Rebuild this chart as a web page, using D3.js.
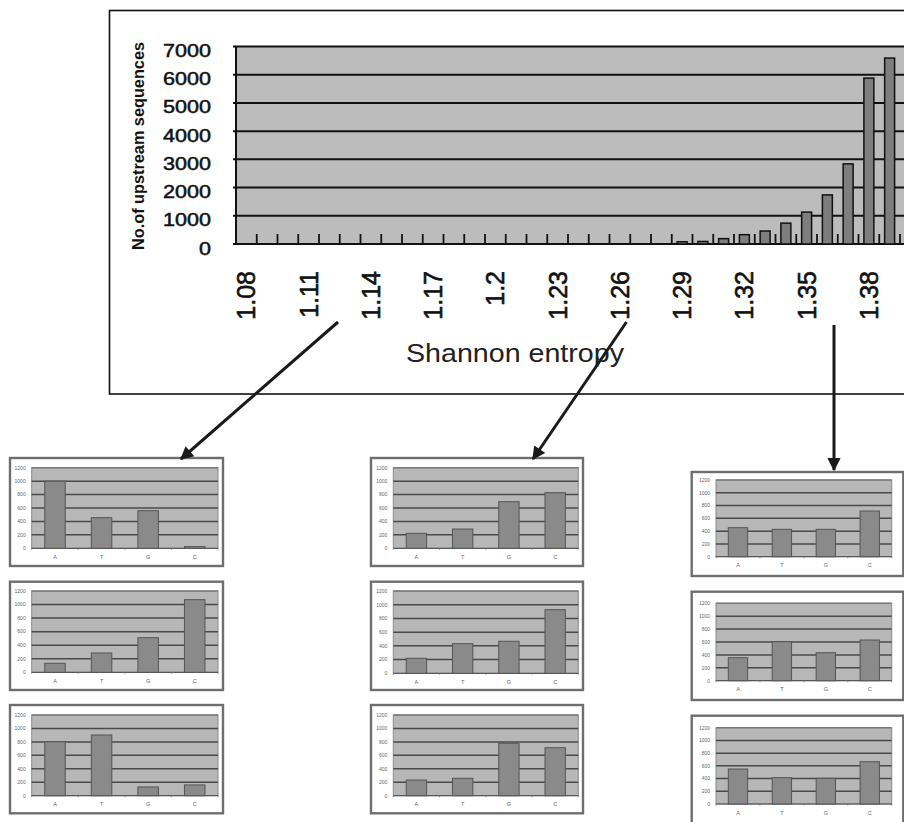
<!DOCTYPE html>
<html><head><meta charset="utf-8">
<script src="https://cdn.jsdelivr.net/npm/d3@7/dist/d3.min.js"></script>
<style>
body{margin:0;background:#fff;}
svg{display:block;font-family:"Liberation Sans",Arial,Helvetica,sans-serif;}
</style>
</head><body>
<svg id="chart" width="904" height="822"></svg>
<script>
// ---------------- DATA ----------------
const entropyCategories = ["1.08","1.09","1.1","1.11","1.12","1.13","1.14","1.15","1.16","1.17",
  "1.18","1.19","1.2","1.21","1.22","1.23","1.24","1.25","1.26","1.27","1.28","1.29","1.3",
  "1.31","1.32","1.33","1.34","1.35","1.36","1.37","1.38","1.39"];
const upstreamCounts = [0,0,0,0,0,0,0,0,0,0,0,0,0,0,0,0,0,0,0,0,0,
  80,90,190,330,460,740,1130,1740,2840,5880,6590];
const mainYTicks = [0,1000,2000,3000,4000,5000,6000,7000];
const mainXTickLabels = ["1.08","1.11","1.14","1.17","1.2","1.23","1.26","1.29","1.32","1.35","1.38"];
const mainYTitle = "No.of upstream sequences";
const mainXTitle = "Shannon entropy";

const bases = ["A","T","G","C"];
const panelYTicks = [0,200,400,600,800,1000,1200];
const lowEntropyTop    = [1000,456,560,25];
const lowEntropyMid    = [133,285,511,1072];
const lowEntropyBottom = [803,903,130,160];
const midEntropyTop    = [223,287,694,828];
const midEntropyMid    = [219,432,467,928];
const midEntropyBottom = [233,259,779,714];
const highEntropyTop    = [454,428,428,715];
const highEntropyMid    = [357,605,434,631];
const highEntropyBottom = [550,414,404,665];

// ---------------- LAYOUT ----------------
const svg = d3.select("#chart");
const C = {plotBg:"#bcbcbc", grid:"#111", bar:"#7e7e7e", ink:"#111"};

// main frame
svg.append("rect").attr("x",109.5).attr("y",10.5).attr("width",820).attr("height",383.5)
  .attr("fill","#fff").attr("stroke","#111").attr("stroke-width",1.6);

const M = {left:236, top:46.5, bottom:244, right:910};
const step = 20.75;
const xMain = d3.scaleBand().domain(entropyCategories)
  .range([M.left, M.left + entropyCategories.length*step])
  .paddingInner(0.52).paddingOuter(0.26);
const yMain = d3.scaleLinear().domain([0,7000]).range([M.bottom, M.top]);

svg.append("rect").attr("x",M.left).attr("y",M.top).attr("width",M.right-M.left)
  .attr("height",M.bottom-M.top).attr("fill",C.plotBg);

// gridlines
svg.append("g").selectAll("line").data(mainYTicks).join("line")
  .attr("x1",M.left-3).attr("x2",M.right).attr("y1",d=>yMain(d)).attr("y2",d=>yMain(d))
  .attr("stroke",C.grid).attr("stroke-width",2);
// left axis line
svg.append("line").attr("x1",M.left).attr("x2",M.left).attr("y1",M.top).attr("y2",M.bottom)
  .attr("stroke",C.grid).attr("stroke-width",2);

// category boundary ticks (inside, upward)
const bounds = d3.range(entropyCategories.length+1).map(i => xMain.range()[0] + i*xMain.step());
svg.append("g").selectAll("line").data(bounds).join("line")
  .attr("x1",d=>d).attr("x2",d=>d).attr("y1",M.bottom).attr("y2",M.bottom-10)
  .attr("stroke",C.grid).attr("stroke-width",1.8);

// bars
svg.append("g").selectAll("rect").data(entropyCategories.map((c,i)=>({c,v:upstreamCounts[i]})).filter(d=>d.v>0))
  .join("rect")
  .attr("x",d=>xMain(d.c)).attr("width",xMain.bandwidth())
  .attr("y",d=>yMain(d.v)).attr("height",d=>M.bottom-yMain(d.v))
  .attr("fill",C.bar).attr("stroke","#111").attr("stroke-width",1.5);

// y tick labels
svg.append("g").selectAll("text").data(mainYTicks).join("text")
  .attr("x",211).attr("y",d=>yMain(d)+10.5).attr("text-anchor","end")
  .attr("font-size",18.5).attr("fill",C.ink).attr("stroke",C.ink).attr("stroke-width",0.5)
  .attr("textLength",d=>String(d).length*12).attr("lengthAdjust","spacingAndGlyphs")
  .text(d=>d);

// y title
svg.append("text").attr("transform","translate(144,146) rotate(-90)")
  .attr("text-anchor","middle").attr("font-size",16).attr("font-weight","bold").attr("fill",C.ink)
  .attr("textLength",208).attr("lengthAdjust","spacingAndGlyphs")
  .text(mainYTitle);

// x tick labels (rotated)
svg.append("g").selectAll("text").data(mainXTickLabels).join("text")
  .attr("transform",d=>`translate(${xMain(d)+xMain.bandwidth()/2+9},271) rotate(-90)`)
  .attr("text-anchor","end").attr("font-size",25).attr("fill",C.ink)
  .attr("stroke",C.ink).attr("stroke-width",0.6)
  .text(d=>d);

// x title
svg.append("text").attr("x",515).attr("y",362).attr("text-anchor","middle")
  .attr("font-size",25).attr("fill","#222")
  .attr("textLength",218).attr("lengthAdjust","spacingAndGlyphs")
  .text(mainXTitle);

// ---------------- SMALL PANELS ----------------
const panels = [
  {v:lowEntropyTop,    f:[10,458,213,108],     p:[31.7,467.7,186.3,80.6]},
  {v:lowEntropyMid,    f:[10,581.7,213,108.3], p:[31.7,591,186.3,81.3]},
  {v:lowEntropyBottom, f:[10,705,213,108.3],   p:[31.7,715,186.3,80.7]},
  {v:midEntropyTop,    f:[371,458,212,108],    p:[393.3,467.7,185,80.6]},
  {v:midEntropyMid,    f:[371,581.7,212,108.3],p:[393.3,591,185,82.3]},
  {v:midEntropyBottom, f:[371,705,212,108.3],  p:[393.3,715,185,80.7]},
  {v:highEntropyTop,   f:[691.7,472,211.6,104],p:[716,480,175.7,76.7]},
  {v:highEntropyMid,   f:[691.7,591.7,211.6,108.3],p:[716,603.3,175.7,77.4]},
  {v:highEntropyBottom,f:[691.7,715.7,211.6,115],p:[716,727.7,175.7,76.3]}
];

panels.forEach(P => {
  const g = svg.append("g");
  const [fx,fy,fw,fh] = P.f, [px,py,pw,ph] = P.p;
  g.append("rect").attr("x",fx).attr("y",fy).attr("width",fw).attr("height",fh)
    .attr("fill","#fff").attr("stroke","#6e6e6e").attr("stroke-width",2.4);
  const x = d3.scaleBand().domain(bases).range([px,px+pw]).paddingInner(0.56).paddingOuter(0.28);
  const y = d3.scaleLinear().domain([0,1200]).range([py+ph,py]);
  g.append("rect").attr("x",px).attr("y",py).attr("width",pw).attr("height",ph).attr("fill","#b7b7b7")
    .attr("stroke","#8a8a8a").attr("stroke-width",1);
  g.selectAll(".gl").data(panelYTicks).join("line")
    .attr("x1",px).attr("x2",px+pw).attr("y1",d=>y(d)).attr("y2",d=>y(d))
    .attr("stroke",d=>d===1200?"#7a7a7a":"#4a4a4a").attr("stroke-width",d=>d===0?1:1.5);
  g.selectAll(".yl").data(panelYTicks).join("text")
    .attr("x",px-6).attr("y",d=>y(d)+1.8).attr("text-anchor","end")
    .attr("font-size",5).attr("fill","#666").text(d=>d);
  const b = d3.range(bases.length+1).map(i => px + i*x.step());
  g.selectAll(".tk").data(b).join("line")
    .attr("x1",d=>d).attr("x2",d=>d).attr("y1",py+ph).attr("y2",py+ph+1.5)
    .attr("stroke","#777").attr("stroke-width",0.8);
  g.selectAll(".bar").data(bases.map((c,i)=>({c,v:P.v[i]}))).join("rect")
    .attr("x",d=>x(d.c)).attr("width",x.bandwidth())
    .attr("y",d=>y(d.v)).attr("height",d=>y(0)-y(d.v))
    .attr("fill","#8a8a8a").attr("stroke","#555").attr("stroke-width",1);
  g.selectAll(".xl").data(bases).join("text")
    .attr("x",d=>x(d)+x.bandwidth()/2).attr("y",py+ph+10.5).attr("text-anchor","middle")
    .attr("font-size",5.5).attr("fill","#666").text(d=>d);
});

// ---------------- ARROWS ----------------
const defs = svg.append("defs");
defs.append("marker").attr("id","ah").attr("viewBox","0 0 10 10").attr("refX",9).attr("refY",5)
  .attr("markerWidth",5.2).attr("markerHeight",4.4).attr("markerUnits","strokeWidth").attr("orient","auto")
  .append("path").attr("d","M0,0 L10,5 L0,10 Z").attr("fill","#1a1a1a");
const arrows = [[338,322,181,459],[626.5,322,533,459],[834,325,834,470]];
svg.append("g").selectAll("line").data(arrows).join("line")
  .attr("x1",d=>d[0]).attr("y1",d=>d[1]).attr("x2",d=>d[2]).attr("y2",d=>d[3])
  .attr("stroke","#1a1a1a").attr("stroke-width",3).attr("marker-end","url(#ah)");
</script>
</body></html>
